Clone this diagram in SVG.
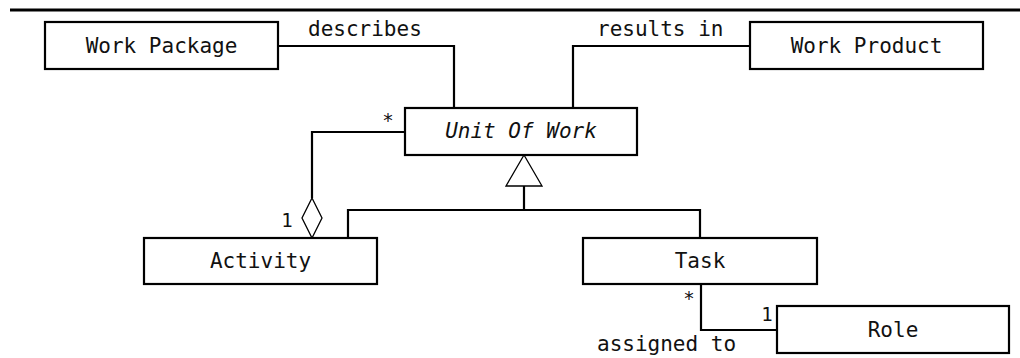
<svg xmlns="http://www.w3.org/2000/svg" width="1020" height="358" viewBox="0 0 1020 358">
<style>
.box{fill:#fff;stroke:#000;stroke-width:2.2}
.ln{fill:none;stroke:#000;stroke-width:2.2}
.thin{fill:#fff;stroke:#000;stroke-width:1.3}
text{font-family:"DejaVu Sans Mono","Liberation Mono",monospace;font-size:21px;fill:#111}
.c{text-anchor:middle}
.it{font-style:italic}
.m{font-size:19px}
</style>
<rect width="1020" height="358" fill="#fff"/>
<line x1="10" y1="10" x2="1020" y2="10" stroke="#000" stroke-width="3"/>
<g id="connectors">
<polyline class="ln" points="278,46 454,46 454,108"/>
<polyline class="ln" points="750,46 573,46 573,108"/>
<polyline class="ln" points="405,132 312,132 312,198"/>
<polygon class="thin" points="312,198 322,218 312,238 302,218"/>
<line class="ln" x1="524" y1="186" x2="524" y2="210"/>
<polyline class="ln" points="348,238 348,210 700,210 700,238"/>
<polygon class="thin" points="524,155 542,186 506,186"/>
<polyline class="ln" points="701,284 701,330 777,330"/>
<text x="308" y="36">describes</text>
<text x="597" y="36">results in</text>
<text x="597" y="351">assigned to</text>
<text class="m c" x="388" y="127">*</text>
<text class="m c" x="287" y="227">1</text>
<text class="m c" x="689" y="305">*</text>
<text class="m c" x="767" y="321">1</text>
</g>
<g id="work-package"><rect class="box" x="45" y="22" width="233" height="47"/><text class="c" x="161.5" y="53">Work Package</text></g>
<g id="work-product"><rect class="box" x="750" y="22" width="233" height="47"/><text class="c" x="866.5" y="53">Work Product</text></g>
<g id="unit-of-work"><rect class="box" x="405" y="108" width="232" height="47"/><text class="c it" x="521" y="138">Unit Of Work</text></g>
<g id="activity"><rect class="box" x="144" y="238" width="233" height="46"/><text class="c" x="260.5" y="268">Activity</text></g>
<g id="task"><rect class="box" x="583" y="238" width="234" height="46"/><text class="c" x="700" y="268">Task</text></g>
<g id="role"><rect class="box" x="777" y="306" width="232" height="47"/><text class="c" x="893" y="337">Role</text></g>
</svg>
